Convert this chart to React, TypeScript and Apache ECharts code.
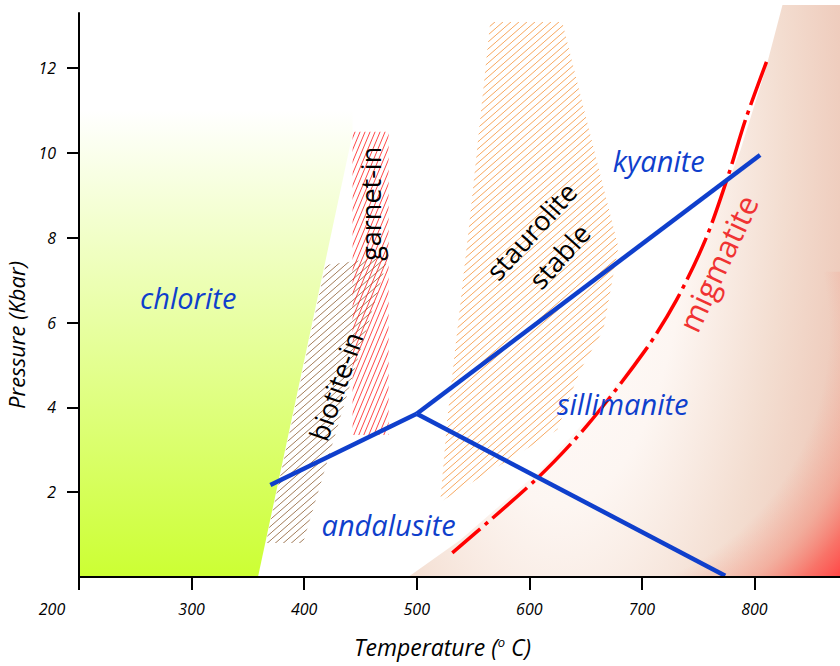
import React, { useEffect, useRef } from 'react';
import * as echarts from 'echarts';

// ---- axis ticks ----
const xTicks = [200, 300, 400, 500, 600, 700, 800];
const yTicks = [2, 4, 6, 8, 10, 12];

// ---- reaction lines [T (°C), P (kbar)] ----
const andKyLine = [[370, 2.17], [500, 3.85]];
const kySilLine = [[500, 3.85], [805, 9.95]];
const andSilLine = [[500, 3.85], [774, 0.03]];
const migmatiteLine = [
  [810.7, 12.15], [792, 10.78], [776, 9.41], [756.4, 7.95], [730.7, 6.53],
  [703.1, 5.35], [651.6, 3.58], [607.1, 2.33], [531.6, 0.57],
];

// ---- zones [T, P] ----
const chloriteZone = [[200, 0], [359, 0], [443, 10.45], [443, 11.0], [200, 11.0]];
const biotiteZone = [[366, 0.8], [399, 0.8], [474.7, 7.55], [419, 7.36]];
const garnetZone = [[443, 3.35], [475, 3.35], [475, 10.5], [443, 10.5]];
const stauroliteZone = [
  [565.3, 13.09], [629.3, 13.09], [656, 10.24], [679.1, 7.78], [665.8, 5.83],
  [645.3, 4.88], [624.9, 3.47], [520.9, 1.77], [527.1, 3.7], [547.6, 8.54],
];
const meltZone = [
  [492.4, 0], [538.7, 0.87], [609.8, 2.52], [663.1, 4.06], [707.6, 5.59],
  [752, 7.59], [787.6, 10.07], [809.8, 11.96], [824.9, 13.49], [876, 13.49], [876, 0],
];
// hottest low-pressure corner of the melt field (red glow)
const hotCorner = [[690, 0], [876, 0], [876, 7.2], [690, 7.2]];

// ---- labels ----
const zoneLabels = ['chlorite', 'andalusite', 'sillimanite', 'kyanite'];
const zoneLabelAt = [[297, 6.6], [475, 1.23], [683, 4.1], [715, 9.83]];
const isogradLabels = ['staurolite', 'stable', 'garnet-in', 'biotite-in'];
const isogradLabelAt = [[601.5, 8.16], [626.5, 7.57], [458.7, 8.8], [428, 4.5]];
const isogradLabelTurn = [48, 48, 90, 71];
const meltLabel = ['migmatite'];
const meltLabelAt = [[767.5, 7.4]];
const meltLabelTurn = [65];

const FONT = "'Open Sans', 'Noto Sans', sans-serif";
const BLUE = '#0f3fcc';

function hatch(color: string, w: number, h: number, lw: number) {
  const c = document.createElement('canvas');
  c.width = w;
  c.height = h;
  const ctx = c.getContext('2d')!;
  ctx.strokeStyle = color;
  ctx.lineWidth = lw;
  for (const off of [-w, 0, w]) {
    ctx.beginPath();
    ctx.moveTo(off, h);
    ctx.lineTo(off + w, 0);
    ctx.stroke();
  }
  return { image: c, repeat: 'repeat', imageWidth: w, imageHeight: h } as any;
}

export default function App() {
  const ref = useRef<HTMLDivElement>(null);

  useEffect(() => {
    document.body.style.margin = '0';
    const chart = echarts.init(ref.current!, null, { renderer: 'svg' });

    const zonePolygon = (pts: number[][], fill: any, z: number) => ({
      type: 'custom',
      silent: true,
      clip: false,
      z,
      data: [pts[0]],
      renderItem: (_p: any, api: any) => ({
        type: 'polygon',
        shape: { points: pts.map((p) => api.coord(p)) },
        style: { fill },
      }),
    });

    // beige glow of the melt field (elliptical, tall)
    const glow = { centre: [627.6, 10.07], reachT: 293, stretch: 2.7 };
    const meltSeries = {
      type: 'custom',
      silent: true,
      clip: false,
      z: 1,
      data: [meltZone[0]],
      renderItem: (_p: any, api: any) => {
        const k = glow.stretch;
        const pts = meltZone.map((p) => {
          const q = api.coord(p);
          return [q[0], q[1] / k];
        });
        const c = api.coord(glow.centre);
        const r = api.coord([glow.centre[0] + glow.reachT, glow.centre[1]])[0] - c[0];
        return {
          type: 'polygon',
          scaleY: k,
          shape: { points: pts },
          style: {
            fill: {
              type: 'radial',
              x: c[0],
              y: c[1] / k,
              r,
              global: true,
              colorStops: [
                { offset: 0, color: '#ffffff' },
                { offset: 0.4, color: '#fdf6f2' },
                { offset: 0.68, color: '#f3ddd0' },
                { offset: 0.85, color: '#efcdbe' },
                { offset: 1, color: '#eec3b3' },
              ],
            },
          },
        };
      },
    };

    // red heat in the hot corner
    const heat = { centre: [627.6, 5.83], reachT: 331.6 };
    const heatSeries = {
      type: 'custom',
      silent: true,
      clip: false,
      z: 1,
      data: [hotCorner[0]],
      renderItem: (_p: any, api: any) => {
        const c = api.coord(heat.centre);
        const r = api.coord([heat.centre[0] + heat.reachT, heat.centre[1]])[0] - c[0];
        return {
          type: 'polygon',
          shape: { points: hotCorner.map((p) => api.coord(p)) },
          style: {
            fill: {
              type: 'radial',
              x: c[0],
              y: c[1],
              r,
              global: true,
              colorStops: [
                { offset: 0, color: 'rgba(245,150,130,0)' },
                { offset: 0.72, color: 'rgba(245,150,130,0)' },
                { offset: 0.84, color: 'rgba(244,140,122,0.5)' },
                { offset: 0.93, color: 'rgba(250,100,90,0.85)' },
                { offset: 1, color: 'rgba(255,70,70,1)' },
              ],
            },
          },
        };
      },
    };

    const textSeries = (
      texts: string[],
      at: number[][],
      turns: number[] | null,
      style: any,
    ) => ({
      type: 'custom',
      silent: true,
      clip: false,
      z: 20,
      data: at,
      renderItem: (p: any, api: any) => {
        const q = api.coord([api.value(0), api.value(1)]);
        const i = p.dataIndex;
        return {
          type: 'text',
          x: q[0],
          y: q[1],
          rotation: turns ? (turns[i] * Math.PI) / 180 : 0,
          style: {
            text: texts[i],
            align: 'center',
            verticalAlign: 'middle',
            fontFamily: FONT,
            ...style,
          },
        };
      },
    });

    const line = (data: number[][], color: string, width: number, type: any = 'solid', smooth: any = false) => ({
      type: 'line',
      data,
      symbol: 'none',
      silent: true,
      smooth,
      z: 10,
      lineStyle: { color, width, type },
    });

    const tickLabel = {
      fontSize: 16,
      fontStyle: 'italic',
      fontFamily: FONT,
      color: '#000',
    };

    chart.setOption({
      animation: false,
      backgroundColor: '#ffffff',
      grid: { left: 79, right: 0, top: 13, bottom: 89, containLabel: false, outerBoundsMode: 'none' },
      xAxis: {
        type: 'value',
        min: 200,
        max: 876,
        interval: 100,
        z: 30,
        axisLine: { show: true, onZero: false, lineStyle: { color: '#000', width: 2 } },
        axisTick: { show: true, length: 13, customValues: xTicks, lineStyle: { color: '#000', width: 2 } },
        axisLabel: {
          ...tickLabel,
          customValues: xTicks,
          margin: 24,
          formatter: (v: number) => (v === 200 ? '{off|200}' : String(v)),
          rich: { off: { ...tickLabel, padding: [0, 54, 0, 0] } },
        },
        splitLine: { show: false },
        name: 'Temperature ({sup|o} C)',
        nameLocation: 'middle',
        nameGap: 58,
        nameTextStyle: {
          fontSize: 23,
          fontStyle: 'italic',
          fontFamily: FONT,
          color: '#000',
          padding: [0, 34, 0, 0],
          rich: {
            sup: { fontSize: 13, fontStyle: 'italic', fontFamily: FONT, color: '#000', verticalAlign: 'top' },
          },
        },
      },
      yAxis: {
        type: 'value',
        min: 0,
        max: 13.3,
        interval: 2,
        z: 30,
        axisLine: { show: true, onZero: false, lineStyle: { color: '#000', width: 2 } },
        axisTick: { show: true, length: 12, customValues: yTicks, lineStyle: { color: '#000', width: 2 } },
        axisLabel: { ...tickLabel, customValues: yTicks, margin: 23 },
        splitLine: { show: false },
        name: 'Pressure (Kbar)',
        nameLocation: 'middle',
        nameRotate: 90,
        nameGap: 38,
        nameTextStyle: {
          fontSize: 22,
          fontStyle: 'italic',
          fontFamily: FONT,
          color: '#000',
          padding: [0, 80, 0, 0],
        },
      },
      series: [
        meltSeries,
        heatSeries,
        zonePolygon(
          chloriteZone,
          {
            type: 'linear',
            x: 0,
            y: 0,
            x2: 0,
            y2: 1,
            colorStops: [
              { offset: 0, color: '#ffffff' },
              { offset: 1, color: '#ccff33' },
            ],
          },
          2,
        ),
        zonePolygon(biotiteZone, hatch('#8a5a2e', 8, 7, 0.8), 3),
        zonePolygon(garnetZone, hatch('#ff1a1a', 5, 12, 0.8), 4),
        zonePolygon(stauroliteZone, hatch('#f59035', 8, 7, 0.8), 3),
        line(migmatiteLine, '#ff0000', 3.5, [46, 6, 4, 6], 0.3),
        line(andKyLine, BLUE, 4.5),
        line(kySilLine, BLUE, 4.5),
        line(andSilLine, BLUE, 4.5),
        textSeries(zoneLabels, zoneLabelAt, null, { fontSize: 29, fontStyle: 'italic', fill: BLUE }),
        textSeries(isogradLabels, isogradLabelAt, isogradLabelTurn, { fontSize: 27, fill: '#000' }),
        textSeries(meltLabel, meltLabelAt, meltLabelTurn, { fontSize: 31, fill: '#f03232' }),
      ],
    });

    return () => chart.dispose();
  }, []);

  return <div ref={ref} style={{ position: 'absolute', left: 0, top: 0, width: 840, height: 666 }} />;
}
